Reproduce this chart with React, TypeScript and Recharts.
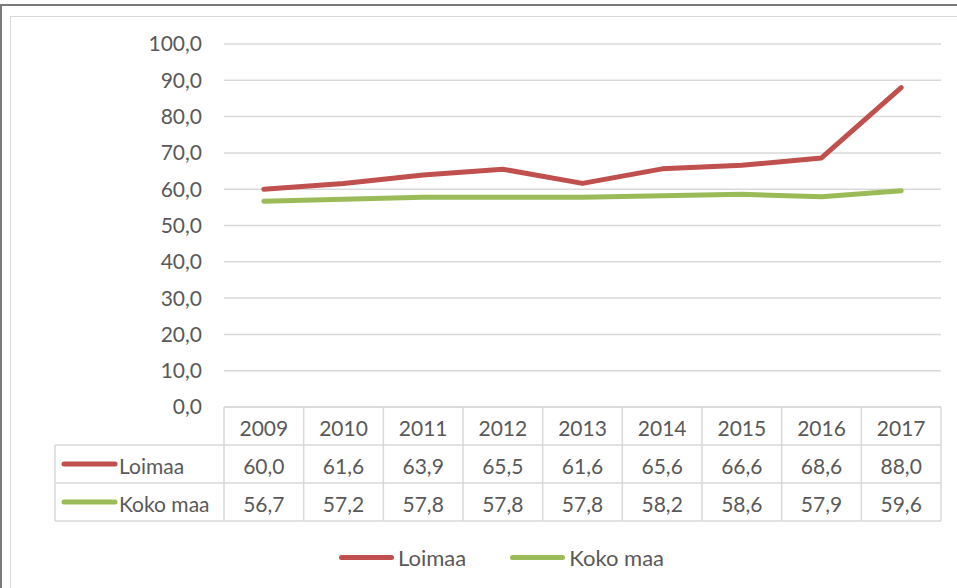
import { LineChart, Line, XAxis, YAxis, CartesianGrid } from "recharts"

const years = ["2009", "2010", "2011", "2012", "2013", "2014", "2015", "2016", "2017"]
const loimaa = [60.0, 61.6, 63.9, 65.5, 61.6, 65.6, 66.6, 68.6, 88.0]
const kokoMaa = [56.7, 57.2, 57.8, 57.8, 57.8, 58.2, 58.6, 57.9, 59.6]
const yTicks = [0, 10, 20, 30, 40, 50, 60, 70, 80, 90, 100]

const series = [
  { key: "loimaa", name: "Loimaa", color: "#c0504d", values: loimaa },
  { key: "koko", name: "Koko maa", color: "#9bbb59", values: kokoMaa },
]

const data = years.map((y, i) => ({ year: y, loimaa: loimaa[i], koko: kokoMaa[i] }))

const W = 957
const H = 588
const PLOT_L = 224
const PLOT_R = 941
const PLOT_T = 44
const PLOT_B = 407
const ROW_H = 38
const TABLE_L = 55
const BAND = (PLOT_R - PLOT_L) / years.length
const GRID = "#d9d9d9"
const TEXT = "#595959"
const FONT = "Lato, 'Open Sans', sans-serif"

const fmt = (v: number) => v.toFixed(1).replace(".", ",")

// draws one column of the data table under each category
function TableTick(props: any) {
  const { x, index } = props
  const l = x - BAND / 2
  const r = x + BAND / 2
  const rows = [PLOT_B, PLOT_B + ROW_H, PLOT_B + 2 * ROW_H, PLOT_B + 3 * ROW_H]
  const last = index === years.length - 1
  return (
    <g>
      {rows.map((ry) => (
        <line key={ry} x1={l} x2={r} y1={ry} y2={ry} stroke={GRID} strokeWidth={1.5} />
      ))}
      <line x1={l} x2={l} y1={rows[0]} y2={rows[3]} stroke={GRID} strokeWidth={1.5} />
      {last && <line x1={r} x2={r} y1={rows[0]} y2={rows[3]} stroke={GRID} strokeWidth={1.5} />}
      <text x={x} y={rows[0] + ROW_H / 2 + 1} textAnchor="middle" dominantBaseline="central"
        fill={TEXT} fontSize={21} fontFamily={FONT}>{years[index]}</text>
      {series.map((s, si) => (
        <text key={s.key} x={x} y={rows[si + 1] + ROW_H / 2 + 1} textAnchor="middle" dominantBaseline="central"
          fill={TEXT} fontSize={21} fontFamily={FONT}>{fmt(s.values[index])}</text>
      ))}
      {index === 0 && (
        <g>
          {rows.slice(1).map((ry) => (
            <line key={ry} x1={TABLE_L} x2={l} y1={ry} y2={ry} stroke={GRID} strokeWidth={1.5} />
          ))}
          <line x1={TABLE_L} x2={TABLE_L} y1={rows[1]} y2={rows[3]} stroke={GRID} strokeWidth={1.5} />
          {series.map((s, si) => {
            const cy = rows[si + 1] + ROW_H / 2
            return (
              <g key={s.key}>
                <line x1={64} x2={115} y1={cy} y2={cy} stroke={s.color} strokeWidth={5} strokeLinecap="round" />
                <text x={119} y={cy + 1} dominantBaseline="central" fill={TEXT} fontSize={21} fontFamily={FONT}>
                  {s.name}
                </text>
              </g>
            )
          })}
        </g>
      )}
    </g>
  )
}

export default function App() {
  return (
    <div style={{ position: "absolute", left: 0, top: 0, width: W, height: H, overflow: "hidden", background: "#fff", fontFamily: FONT }}>
      <div style={{ position: "absolute", left: 0, top: 4, width: W + 40, height: H + 40, borderLeft: "2px solid #7a7a7a", borderTop: "2px solid #7a7a7a" }} />
      <div style={{ position: "absolute", left: 10, top: 16, width: W + 40, height: H + 40, borderLeft: "1.5px solid #d9d9d9", borderTop: "1.5px solid #d9d9d9" }} />
      <div style={{ position: "absolute", left: 0, top: 0 }}>
        <LineChart
          width={W}
          height={H}
          data={data}
          margin={{ top: PLOT_T, right: W - PLOT_R, left: PLOT_L - 60, bottom: H - PLOT_B - 115 }}
        >
          <CartesianGrid vertical={false} stroke={GRID} strokeWidth={1.5} />
          <YAxis
            domain={[0, 100]}
            ticks={yTicks}
            width={60}
            axisLine={false}
            tickLine={false}
            tickMargin={16}
            tickFormatter={fmt}
            tick={{ fontSize: 21, fill: TEXT, fontFamily: FONT }}
          />
          <XAxis
            dataKey="year"
            height={115}
            interval={0}
            padding={{ left: BAND / 2, right: BAND / 2 }}
            axisLine={false}
            tickLine={false}
            tick={<TableTick />}
          />
          {series.map((s) => (
            <Line
              key={s.key}
              type="linear"
              dataKey={s.key}
              name={s.name}
              stroke={s.color}
              strokeWidth={5}
              strokeLinecap="round"
              strokeLinejoin="round"
              dot={false}
              activeDot={false}
              isAnimationActive={false}
            />
          ))}
        </LineChart>
      </div>
      <div style={{ position: "absolute", left: 339, top: 542, display: "flex", alignItems: "center", fontSize: 22, color: TEXT }}>
        {series.map((s, i) => (
          <div key={s.key} style={{ display: "flex", alignItems: "center", marginLeft: i === 0 ? 0 : 44, height: 30 }}>
            <span style={{ display: "inline-block", width: 55, height: 5, borderRadius: 3, background: s.color, marginRight: 4 }} />
            <span>{s.name}</span>
          </div>
        ))}
      </div>
    </div>
  )
}
